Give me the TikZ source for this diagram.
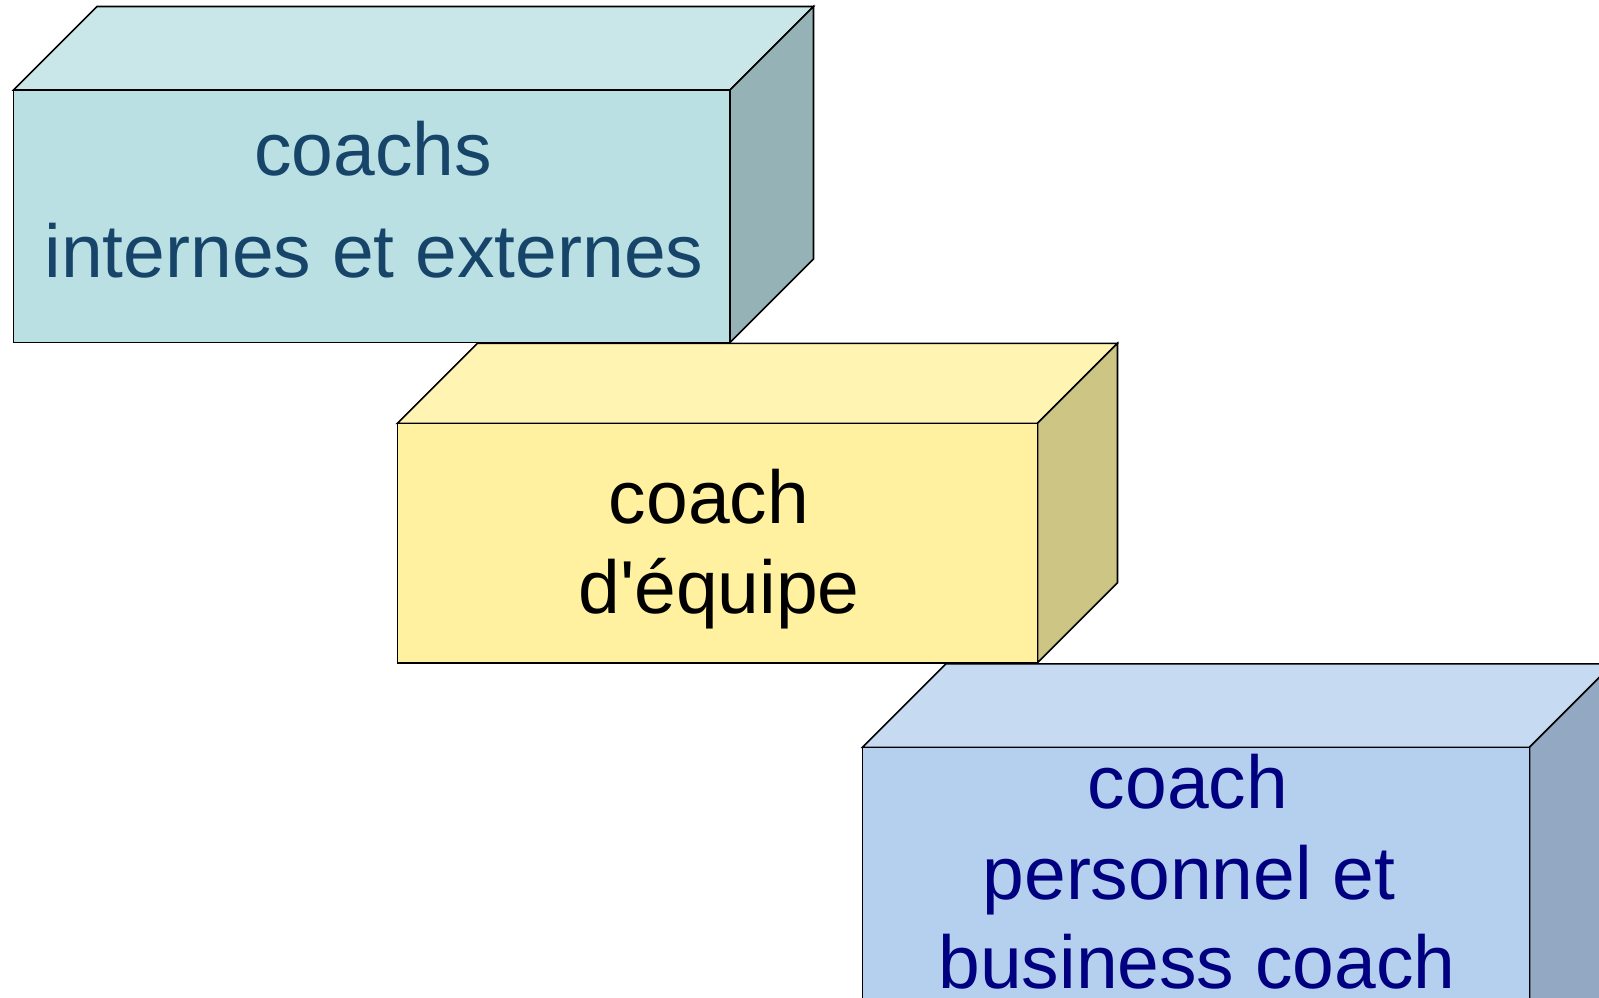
\documentclass[tikz,border=0pt]{standalone}
\usepackage{fontspec}
\setmainfont{Liberation Sans}
\definecolor{aFront}{HTML}{BAE0E4}
\definecolor{aTop}{HTML}{C9E6E9}
\definecolor{aSide}{HTML}{95B3B7}
\definecolor{aText}{HTML}{17456A}
\definecolor{bFront}{HTML}{FFF19F}
\definecolor{bTop}{HTML}{FFF4B2}
\definecolor{bSide}{HTML}{CCC583}
\definecolor{bText}{HTML}{000000}
\definecolor{cFront}{HTML}{B5CFEE}
\definecolor{cTop}{HTML}{C6DAF2}
\definecolor{cSide}{HTML}{93A9C3}
\definecolor{cText}{HTML}{000080}
\tikzset{
  face/.style={draw=black, line width=1.6pt, line join=miter},
  lbl/.style={anchor=base, inner sep=0pt, font=\fontsize{75}{82}\selectfont}
}
\newcommand{\drawbox}[8]{% x1 y1 x2 y2 d front top side
  \filldraw[face, fill=#7] (#1,#2) -- ({#1+#5},{#2-#5}) -- ({#3+#5},{#2-#5}) -- (#3,#2) -- cycle;
  \filldraw[face, fill=#8] (#3,#2) -- ({#3+#5},{#2-#5}) -- ({#3+#5},{#4-#5}) -- (#3,#4) -- cycle;
  \filldraw[face, fill=#6] (#1,#2) rectangle (#3,#4);
}
\begin{document}
\begin{tikzpicture}[x=1pt,y=-1pt]
\useasboundingbox (0,0) rectangle (1599,998);
\clip (0,0) rectangle (1599,998);
\fill[white] (0,0) rectangle (1599,998);
% box 1
\drawbox{13.5}{90}{730}{342.5}{83.5}{aFront}{aTop}{aSide}
\node[lbl, text=aText] (a1) at (373,175) {coachs};
\node[lbl, text=aText] (a2) at (374,277) {internes et externes};
% box 2
\drawbox{397.5}{423.3}{1037.5}{662.7}{80}{bFront}{bTop}{bSide}
\node[lbl, text=bText] (b1) at (709,523) {coach};
\node[lbl, text=bText] (b2) at (719,613) {d\textquotesingle équipe};
% box 3
\drawbox{862.5}{747.3}{1529.5}{1100}{83.5}{cFront}{cTop}{cSide}
\node[lbl, text=cText] (c1) at (1188,808) {coach};
\node[lbl, text=cText] (c2) at (1189,899) {personnel et};
\node[lbl, text=cText] (c3) at (1197,988) {business coach};
\end{tikzpicture}
\end{document}
